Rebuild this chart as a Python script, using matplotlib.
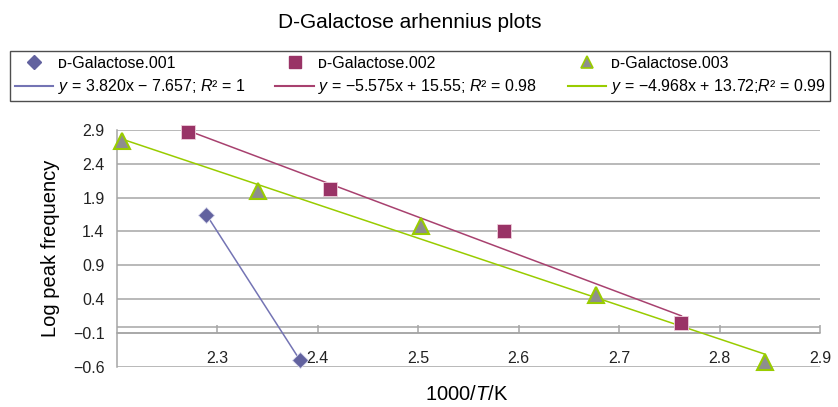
import numpy as np
import matplotlib
matplotlib.use('Agg')
import matplotlib.pyplot as plt
from matplotlib.lines import Line2D
from matplotlib import transforms

# measured points, 1000/T against log peak frequency
x_001 = [2.289, 2.382]
y_001 = [1.65, -0.50]

x_002 = [2.271, 2.412, 2.585, 2.762]
y_002 = [2.87, 2.03, 1.40, 0.05]

x_003 = [2.205, 2.340, 2.503, 2.677, 2.845]
y_003 = [2.74, 2.00, 1.48, 0.46, -0.53]

series_names = ['\u1d05-Galactose.001', '\u1d05-Galactose.002', '\u1d05-Galactose.003']
fit_labels = [
	'$y$ = 3.820x \u2212 7.657; $R$\u00b2 = 1',
	'$y$ = \u22125.575x + 15.55; $R$\u00b2 = 0.98',
	'$y$ = \u22124.968x + 13.72;$R$\u00b2 = 0.99',
]
# trend line coefficients for series 2 and 3 (slope, intercept)
fit_002 = (-5.575, 15.55)
fit_003 = (-4.968, 13.72)

y_ticks = [-0.6, -0.1, 0.4, 0.9, 1.4, 1.9, 2.4, 2.9]
x_ticks = [2.3, 2.4, 2.5, 2.6, 2.7, 2.8, 2.9]

plt.rcParams['font.family'] = ['Liberation Sans', 'DejaVu Sans']
plt.rcParams['mathtext.fontset'] = 'custom'
plt.rcParams['mathtext.it'] = 'Liberation Sans:italic'
plt.rcParams['mathtext.rm'] = 'Liberation Sans'

fig = plt.figure(figsize=(8.38, 4.07), dpi=100)
ax = fig.add_axes([117 / 838, 1 - 366.7 / 407, (820 - 117) / 838, (366.7 - 130) / 407])

c1_mark, c1_line = '#62629f', '#7474b4'
c2_mark, c2_line = '#993366', '#a8416f'
c3_face, c3_line = '#8e8e8e', '#99cc00'

# trend lines
p1 = np.polyfit(x_001, y_001, 1)
xs1 = np.array([min(x_001), max(x_001)])
ax.plot(xs1, np.polyval(p1, xs1), color=c1_line, lw=1.1, zorder=3)
xs2 = np.array([min(x_002), max(x_002)])
ax.plot(xs2, fit_002[0] * xs2 + fit_002[1], color=c2_line, lw=1.1, zorder=3)
xs3 = np.array([min(x_003), max(x_003)])
ax.plot(xs3, fit_003[0] * xs3 + fit_003[1], color=c3_line, lw=1.1, zorder=3)

# markers
ax.plot(x_001, y_001, ls='none', marker='D', ms=8, color=c1_mark, mec='#d8d8ec', mew=0.6,
	zorder=4, clip_on=False)
ax.plot(x_002, y_002, ls='none', marker='s', ms=10, color=c2_mark, mec='#f0d0dc', mew=0.6,
	zorder=4, clip_on=False)
ax.plot(x_003, y_003, ls='none', marker='^', ms=11, color=c3_face, mec=c3_line, mew=1.5,
	zorder=4, clip_on=False)

ax.set_xlim(2.2, 2.9)
ax.set_ylim(-0.6, 2.9)
ax.set_yticks(y_ticks)
ax.set_yticklabels([('%.1f' % v).replace('-', '\u2212') for v in y_ticks])
ax.set_xticks(x_ticks)
ax.set_xticklabels(['%.1f' % v for v in x_ticks])

for v in y_ticks:
	ax.axhline(v, color='#a6a6a6', lw=1.1, zorder=1)

# second line above the category axis, on top of the tick marks
off = transforms.offset_copy(ax.transData, fig=fig, x=0, y=6, units='dots')
ax.plot([2.2, 2.9], [-0.1, -0.1], color='#a6a6a6', lw=1.1, transform=off, zorder=1)

for s in ['top', 'right']:
	ax.spines[s].set_visible(False)
ax.spines['left'].set_color('#a6a6a6')
ax.spines['left'].set_linewidth(1.1)
ax.spines['bottom'].set_position(('data', -0.1))
ax.spines['bottom'].set_color('#a6a6a6')
ax.spines['bottom'].set_linewidth(1.1)

ax.tick_params(axis='y', length=0, labelsize=11.5, pad=9, colors='#222222')
ax.tick_params(axis='x', direction='in', length=6, width=1.1, color='#a6a6a6',
	labelsize=11.5, pad=13, labelcolor='#222222')

ax.set_ylabel('Log peak frequency', fontsize=14.5, labelpad=9)
fig.text(467 / 838, 1 - 395 / 407, '1000/$T$/K', ha='center', va='center', fontsize=14.5)
fig.text(410 / 838, 1 - 22 / 407, 'D-Galactose arhennius plots', ha='center', va='center', fontsize=15)

handles = [
	Line2D([], [], ls='none', marker='D', ms=7, color=c1_mark),
	Line2D([], [], color=c1_line, lw=1.5),
	Line2D([], [], ls='none', marker='s', ms=8, color=c2_mark),
	Line2D([], [], color=c2_line, lw=1.5),
	Line2D([], [], ls='none', marker='^', ms=8, color=c3_face, mec=c3_line, mew=1.2),
	Line2D([], [], color=c3_line, lw=1.5),
]
labels = [series_names[0], fit_labels[0], series_names[1], fit_labels[1], series_names[2], fit_labels[2]]
leg = fig.legend(handles, labels, ncol=3, loc='lower left',
	bbox_to_anchor=(10 / 838, 1 - 101 / 407, 820 / 838, 51 / 407), mode='expand',
	fontsize=11.5, frameon=True, fancybox=False, borderaxespad=0, handlelength=2.4,
	handletextpad=0.3, columnspacing=0.3, labelspacing=0.4, borderpad=0.3)
leg.get_frame().set_edgecolor('#222222')
leg.get_frame().set_linewidth(1.0)

fig.savefig('out.png', dpi=100)
